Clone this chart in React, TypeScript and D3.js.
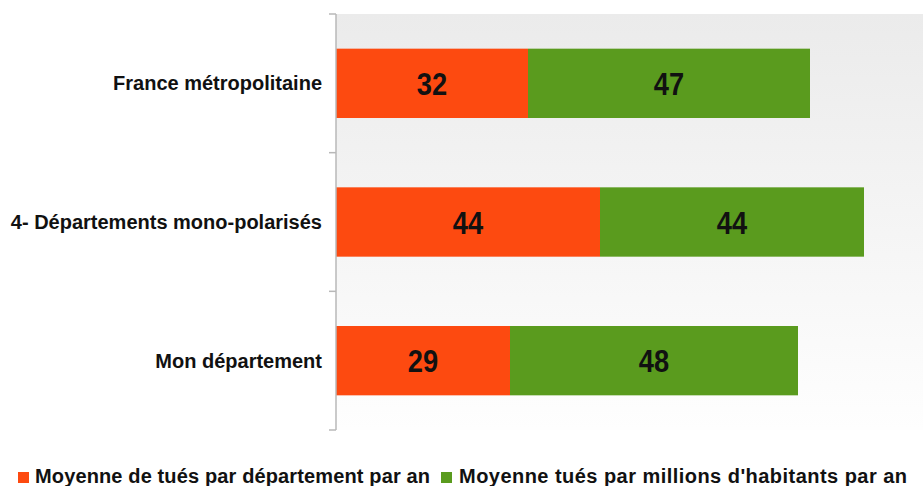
import React from "react";
import * as d3 from "d3";

const categories = ["France métropolitaine", "4- Départements mono-polarisés", "Mon département"];
const seriesNames = ["Moyenne de tués par département par an", "Moyenne tués par millions d'habitants par an"];
const seriesA = [32, 44, 29];
const seriesB = [47, 44, 48];
const colors = ["#FD4A10", "#5A9B1E"];

const W = 923;
const H = 486;
const left = 336;
const top = 14;
const bottom = 430;
const FONT = "'Liberation Sans', Arial, Helvetica, sans-serif";

export default function App() {
  const x = d3.scaleLinear().domain([0, 100]).range([left, left + 600]);
  const y = d3.scaleBand<string>().domain(categories).range([top, bottom]).paddingInner(0.5).paddingOuter(0.25);
  const rows = categories.map((c, i) => ({ cat: c, a: seriesA[i], b: seriesB[i] }));
  const stack = d3.stack<any>().keys(["a", "b"])(rows as any);
  const boundaries = d3.range(categories.length + 1).map((i) => top + ((bottom - top) / categories.length) * i);

  const legendItems = [
    { name: seriesNames[0], color: colors[0], sx: 18, tx: 35, len: 395 },
    { name: seriesNames[1], color: colors[1], sx: 441, tx: 459, len: 448 },
  ];

  return (
    <svg width={W} height={H} style={{ position: "fixed", left: 0, top: 0, background: "#fff" }}>
      <defs>
        <linearGradient id="bg" x1="0" y1="0" x2="0" y2="1">
          <stop offset="0" stopColor="#ebebeb" />
          <stop offset="1" stopColor="#fefefe" />
        </linearGradient>
      </defs>
      <rect x={left} y={top} width={W - left} height={bottom - top} fill="url(#bg)" />
      {stack.map((s, si) =>
        s.map((d, i) => {
          const x0 = x(d[0]);
          const x1 = x(d[1]);
          const yy = y(categories[i]) as number;
          const cx = (x0 + x1) / 2;
          const cy = yy + y.bandwidth() / 2 + 1;
          return (
            <g key={`${si}-${i}`}>
              <rect x={x0} y={yy} width={x1 - x0} height={y.bandwidth()} fill={colors[si]} />
              <text
                transform={`translate(${cx},${cy}) scale(0.88,1)`}
                textAnchor="middle"
                dominantBaseline="central"
                fontFamily={FONT}
                fontWeight="bold"
                fontSize={31}
                fill="#111"
              >
                {d[1] - d[0]}
              </text>
            </g>
          );
        })
      )}
      <line x1={left} x2={left} y1={top} y2={bottom} stroke="#b8b8b8" strokeWidth={1.5} />
      {boundaries.map((b, i) => (
        <line key={i} x1={left - 7} x2={left} y1={b} y2={b} stroke="#b8b8b8" strokeWidth={1.5} />
      ))}
      {categories.map((c) => (
        <text
          key={c}
          x={322}
          y={(y(c) as number) + y.bandwidth() / 2}
          textAnchor="end"
          dominantBaseline="central"
          fontFamily={FONT}
          fontWeight="bold"
          fontSize={20}
          fill="#111"
        >
          {c}
        </text>
      ))}
      {legendItems.map((l) => (
        <g key={l.name}>
          <rect x={l.sx} y={472} width={11} height={11} fill={l.color} />
          <text
            x={l.tx}
            y={483}
            fontFamily={FONT}
            fontWeight="bold"
            fontSize={20}
            fill="#111"
            textLength={l.len}
            lengthAdjust="spacing"
          >
            {l.name}
          </text>
        </g>
      ))}
    </svg>
  );
}
